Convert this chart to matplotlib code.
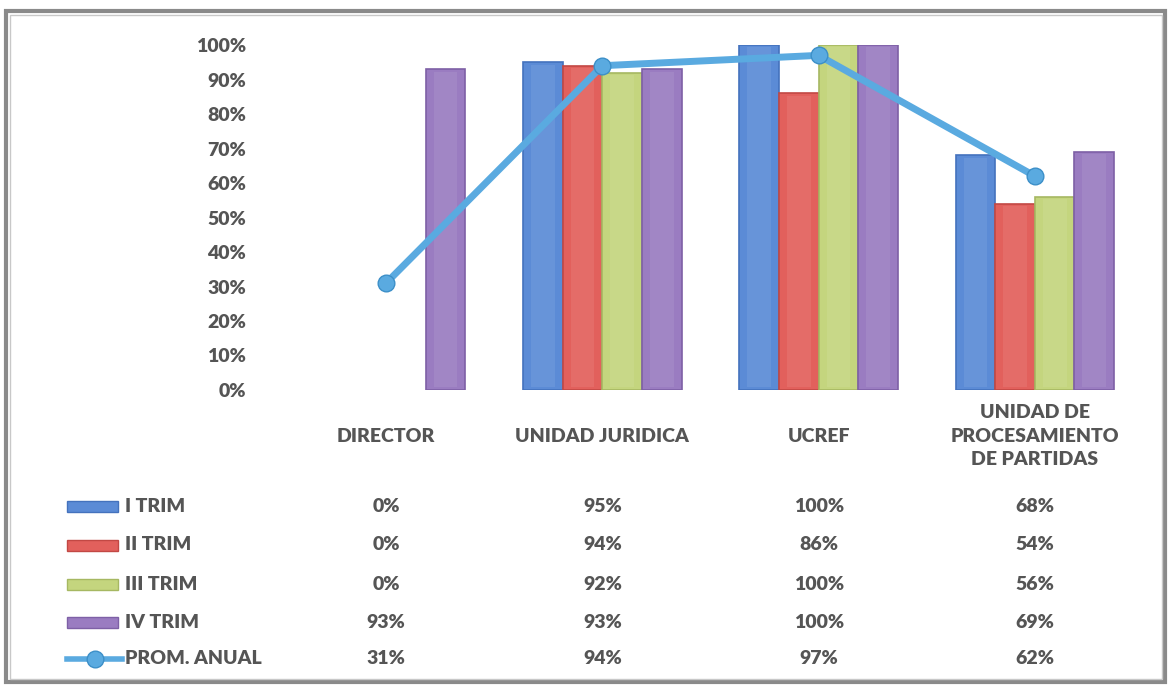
import matplotlib.pyplot as plt
import matplotlib.transforms as mtransforms
from matplotlib.patches import Rectangle
from matplotlib.lines import Line2D
import numpy as np

plt.rcParams['font.family'] = ['Lato', 'DejaVu Sans']
plt.rcParams['font.weight'] = 'heavy'

# datos
categorias = ["DIRECTOR", "UNIDAD JURIDICA", "UCREF", "UNIDAD DE\nPROCESAMIENTO\nDE PARTIDAS"]
series = ["I TRIM", "II TRIM", "III TRIM", "IV TRIM"]
i_trim = [0.00, 0.95, 1.00, 0.68]
ii_trim = [0.00, 0.94, 0.86, 0.54]
iii_trim = [0.00, 0.92, 1.00, 0.56]
iv_trim = [0.93, 0.93, 1.00, 0.69]
prom_anual = [0.31, 0.94, 0.97, 0.62]
etiqueta_prom = "PROM. ANUAL"

colores = ["#5B8BD6", "#E2605C", "#C4D57E", "#9A7CC1"]
bordes = ["#4472BD", "#C24844", "#A6B862", "#7E60A6"]
color_linea = "#5AAAE0"
gris = "#555555"
peso = "heavy"

W, H = 1172, 692
fig = plt.figure(figsize=(W / 100, H / 100), dpi=100)

# capa de fondo en pixeles (marco, leyenda)
bg = fig.add_axes([0, 0, 1, 1], zorder=0)
bg.set_xlim(0, W)
bg.set_ylim(H, 0)
bg.axis("off")
bg.add_patch(Rectangle((6, 11), 1159, 671, fill=False, edgecolor="#8a8a8a", linewidth=3))
bg.add_patch(Rectangle((9.5, 14.5), 1152, 664, fill=False, edgecolor="#c8c8c8", linewidth=1))

ax = fig.add_axes([278 / W, 1 - 390 / H, (1143 - 278) / W, 345 / H], zorder=1)
ax.patch.set_alpha(0)

x = np.arange(len(categorias))
ancho = 0.183
datos = [i_trim, ii_trim, iii_trim, iv_trim]
for k, (vals, c, b) in enumerate(zip(datos, colores, bordes)):
    v = np.array(vals)
    xs = x + (k - 1.5) * ancho
    mask = v > 0
    ax.bar(xs[mask], v[mask], width=ancho, color=c, edgecolor=b, linewidth=1.2, zorder=2)
    # brillo central
    ax.bar(xs[mask], v[mask] - 0.015, width=ancho * 0.6, bottom=0.008, color="white",
           alpha=0.08, linewidth=0, zorder=3)

ax.plot(x, prom_anual, color=color_linea, linewidth=5, marker="o", markersize=12,
        markerfacecolor=color_linea, markeredgecolor="#3C8FC8", markeredgewidth=1, zorder=4)

ax.set_xlim(-0.5, len(categorias) - 0.5)
ax.set_ylim(0, 1)
ax.set_yticks(np.arange(0, 1.01, 0.1))
ax.set_yticklabels([f"{int(round(t * 100))}%" for t in np.arange(0, 1.01, 0.1)],
                   fontsize=14, fontweight=peso, color=gris)
ax.tick_params(axis="y", length=0, pad=23)
ax.set_xticks([])
for s in ax.spines.values():
    s.set_visible(False)

# tabla de datos
tr = mtransforms.blended_transform_factory(ax.transData, fig.transFigure)
for xi, cat in zip(x, categorias):
    ax.text(xi, 1 - 436 / H, cat, transform=tr, ha="center", va="center",
            fontsize=14, fontweight=peso, color=gris, linespacing=1.45)

filas_y = [506, 545, 584, 622, 659]
todas = datos + [prom_anual]
for fy, vals in zip(filas_y, todas):
    for xi, v in zip(x, vals):
        ax.text(xi, 1 - fy / H, f"{int(round(v * 100))}%", transform=tr, ha="center",
                va="center", fontsize=14, fontweight=peso, color=gris)

# leyenda
for fy, nombre, c, b in zip(filas_y[:4], series, colores, bordes):
    bg.add_patch(Rectangle((67, fy - 5.5), 51, 11, facecolor=c, edgecolor=b, linewidth=1))
    bg.text(125, fy, nombre, ha="left", va="center", fontsize=14, fontweight=peso, color=gris)
bg.add_line(Line2D([67, 122], [filas_y[4], filas_y[4]], color=color_linea, linewidth=4))
bg.plot([94.5], [filas_y[4]], marker="o", markersize=12, color=color_linea,
        markeredgecolor="#3C8FC8", markeredgewidth=1)
bg.text(125, filas_y[4], etiqueta_prom, ha="left", va="center", fontsize=14,
        fontweight=peso, color=gris)

fig.savefig("out.png", dpi=100)
